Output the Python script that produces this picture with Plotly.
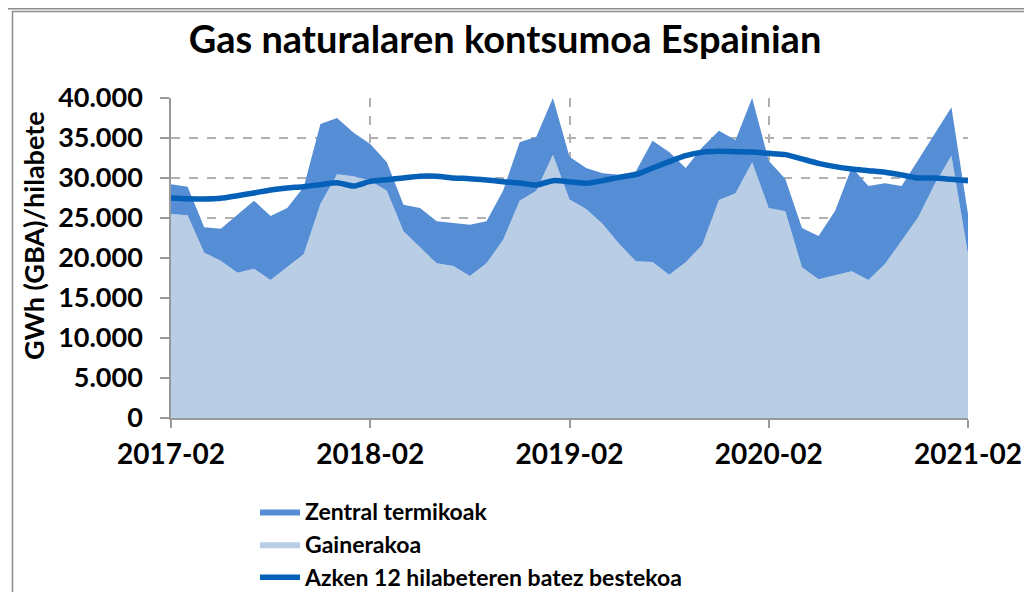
import plotly.graph_objects as go

# ---- data ----
months = [f"{2017 + (m // 12)}-{(m % 12) + 1:02d}" for m in range(1, 50)]  # 2017-02 .. 2021-02
tick_labels = ["2017-02", "2018-02", "2019-02", "2020-02", "2021-02"]

gainerakoa = [25500, 25330, 20670, 19670, 18170, 18670, 17250, 18830, 20500, 26750,
              30460, 30210, 29670, 28420, 23330, 21330, 19330, 19000, 17750, 19330,
              22250, 27170, 28420, 32920, 27300, 26130, 24250, 21750, 19580, 19500,
              17920, 19460, 21670, 27250, 28080, 31960, 26250, 25830, 18830, 17330,
              17790, 18330, 17250, 19250, 22170, 25080, 29250, 32790, 20500]

total = [29210, 28920, 23830, 23670, 25420, 27170, 25250, 26250, 28920, 36750,
         37500, 35670, 34250, 31960, 26670, 26250, 24580, 24420, 24170, 24580,
         28420, 34460, 35170, 40000, 32670, 31250, 30580, 30420, 30830, 34670,
         33250, 31250, 33830, 35920, 34750, 40000, 32170, 29880, 23750, 22750,
         25920, 31330, 29000, 29330, 29000, 32250, 35500, 38830, 25500]

zentral = [t - g for t, g in zip(total, gainerakoa)]

batez_bestekoa = [27500, 27400, 27370, 27460, 27790, 28130, 28500, 28750, 28920, 29170,
                  29420, 29000, 29580, 29790, 30000, 30210, 30210, 30000, 29920, 29750,
                  29540, 29380, 29130, 29670, 29540, 29330, 29670, 30080, 30420, 31250,
                  32040, 32790, 33210, 33330, 33290, 33250, 33080, 32920, 32380, 31830,
                  31420, 31130, 30920, 30710, 30380, 30000, 30000, 29830, 29670]

y_ticks = [0, 5000, 10000, 15000, 20000, 25000, 30000, 35000, 40000]
y_tick_text = ["0", "5.000", "10.000", "15.000", "20.000", "25.000", "30.000", "35.000", "40.000"]

# ---- styling ----
FONT = "Lato"
C_DARK = "#558ED5"
C_LIGHT = "#B9CDE5"
C_LINE = "#0560B8"

OFF = 8  # page body margin
W, H = 1032 - 2 * OFF, 600 - 2 * OFF
# plot area in screen px
SPL, SPR, SPT, SPB = 171, 968, 98, 418
PL, PR, PT, PB = SPL - OFF, SPR - OFF, SPT - OFF, SPB - OFF


def px_x(x):  # screen px -> paper
    return (x - OFF - PL) / (PR - PL)


def px_y(y):
    return (PB - (y - OFF)) / (PB - PT)


fig = go.Figure()
fig.add_trace(go.Scatter(
    x=months, y=gainerakoa, name="Gainerakoa", stackgroup="one",
    mode="lines", line=dict(width=0, color=C_LIGHT), fillcolor=C_LIGHT,
    legendrank=2,
))
fig.add_trace(go.Scatter(
    x=months, y=zentral, name="Zentral termikoak", stackgroup="one",
    mode="lines", line=dict(width=0, color=C_DARK), fillcolor=C_DARK,
    legendrank=1,
))
fig.add_trace(go.Scatter(
    x=months, y=batez_bestekoa, name="Azken 12 hilabeteren batez bestekoa",
    mode="lines", line=dict(width=5.5, color=C_LINE, shape="spline", smoothing=0.6),
    legendrank=3,
))

fig.update_layout(
    width=W, height=H,
    margin=dict(l=PL, r=W - PR, t=PT, b=H - PB, autoexpand=False),
    paper_bgcolor="white", plot_bgcolor="white",
    font=dict(family=FONT, color="black"),
    showlegend=True,
    legend=dict(
        x=px_x(255), y=px_y(490), xanchor="left", yanchor="top",
        traceorder="normal",
        font=dict(family=FONT, size=23, weight="bold"),
        bgcolor="rgba(0,0,0,0)", tracegroupgap=0, itemwidth=40,
    ),
    title=dict(
        text="Gas naturalaren kontsumoa Espainian",
        font=dict(family=FONT, size=38, weight="bold", color="black"),
        x=(505 - OFF) / W, xanchor="center", xref="container",
        y=1 - (40 - OFF) / H, yanchor="middle", yref="container",
    ),
)

fig.update_xaxes(
    type="category", range=[0, len(months) - 1],
    tickmode="array", tickvals=tick_labels, ticktext=tick_labels,
    ticks="outside", ticklen=8, tickcolor="#999999", tickwidth=1.5,
    showline=True, linecolor="#999999", linewidth=1.5,
    showgrid=True, gridcolor="#B0B0B0", griddash="dash", gridwidth=1.5,
    tickfont=dict(family=FONT, size=28, weight="bold"),
    ticklabelstandoff=3, automargin=False,
    zeroline=False,
)
fig.update_yaxes(
    range=[0, 40000],
    tickmode="array", tickvals=y_ticks, ticktext=y_tick_text,
    ticks="outside", ticklen=9, tickcolor="#999999", tickwidth=1.5,
    showline=True, linecolor="#999999", linewidth=1.5,
    showgrid=True, gridcolor="#B0B0B0", griddash="dash", gridwidth=1.5,
    tickfont=dict(family=FONT, size=27, weight="bold"),
    ticklabelstandoff=12, automargin=False,
    zeroline=False,
)

# y-axis title as rotated annotation
fig.add_annotation(
    text="GWh (GBA)/hilabete", textangle=-90,
    xref="paper", yref="paper", x=px_x(33), y=px_y(236),
    xanchor="center", yanchor="middle", showarrow=False,
    font=dict(family=FONT, size=27, weight="bold", color="black"),
)

# frame of the chart object (cropped)
fig.add_shape(type="rect", xref="paper", yref="paper",
              x0=px_x(12.5), x1=px_x(1050), y0=px_y(11.5), y1=px_y(620),
              line=dict(color="#8C8C8C", width=1.5), fillcolor="rgba(0,0,0,0)", layer="below")
fig.add_shape(type="line", xref="paper", yref="paper",
              x0=px_x(0), x1=px_x(1050), y0=px_y(8.5), y1=px_y(8.5),
              line=dict(color="#8C8C8C", width=2))

fig.write_html("out.html")
